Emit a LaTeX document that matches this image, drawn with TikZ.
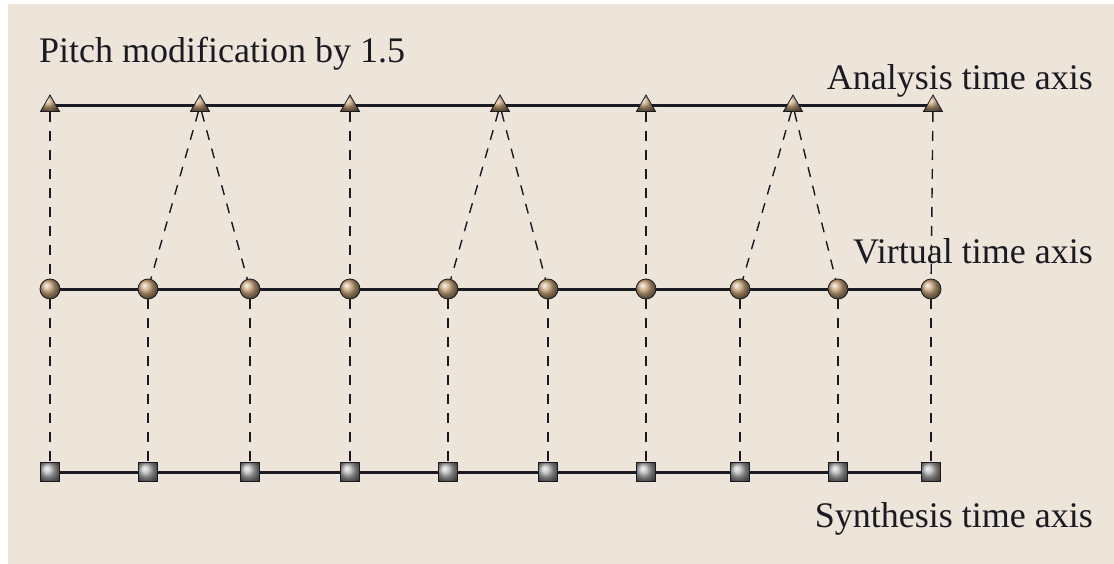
\documentclass[tikz,border=0pt]{standalone}
\usepackage{fontspec}
\setmainfont{Liberation Serif}
\usetikzlibrary{shapes.geometric, backgrounds}
\definecolor{psBack}{HTML}{EDE5DA}
\definecolor{psBronze}{HTML}{C9A57A}
\definecolor{psGray}{HTML}{B8B8B8}
\definecolor{psInk}{HTML}{1A1A22}

\begin{document}
\begin{tikzpicture}[
  x=1pt, y=-1pt,
  anapt/.style={
    regular polygon, regular polygon sides=3, minimum size=22pt,
    inner sep=0pt, draw=psInk, line width=0.8pt,
    shading=ball, ball color=psBronze,
  },
  virtpt/.style={
    circle, minimum size=20pt, inner sep=0pt, draw=psInk, line width=0.8pt,
    shading=ball, ball color=psBronze,
  },
  synpt/.style={
    rectangle, minimum size=19pt, inner sep=0pt, draw=psInk, line width=1pt,
    shading=ball, ball color=psGray,
  },
  axisline/.style={line width=3pt, color=psInk},
  link/.style={line width=1.4pt, color=psInk, dash pattern=on 10pt off 9pt},
  label/.style={inner sep=0pt, text=psInk, font=\fontsize{36}{40}\selectfont},
]
\useasboundingbox (0,0) rectangle (1114,564);

% time axes: markers
\foreach \x [count=\i] in {50,200,350,500,646,793,933}
  \node[anapt] (a\i) at (\x,106) {};
\foreach \x [count=\i] in {50,148,250,350,448,548,646,740,838,931} {
  \node[virtpt] (v\i) at (\x,289) {};
  \node[synpt]  (s\i) at (\x,472) {};
}

\begin{scope}[on background layer]
  \fill[psBack] (8,4) rectangle (1114,564);
  \draw[axisline] (a1.center) -- (a7.center);
  \draw[axisline] (v1.center) -- (v10.center);
  \draw[axisline] (s1.center) -- (s10.center);
\end{scope}

% analysis -> virtual
\foreach \a/\v in {1/1, 2/2, 2/3, 3/4, 4/5, 4/6, 5/7, 6/8, 6/9, 7/10}
  \draw[link] (a\a) -- (v\v);
% virtual -> synthesis
\foreach \i in {1,...,10}
  \draw[link] (v\i) -- (s\i);

% labels
\node[label, anchor=base west] (title) at (39,63) {Pitch modification by 1.5};
\node[label, anchor=base east] (anaLbl) at (1093,90) {Analysis time axis};
\node[label, anchor=base east] (virLbl) at (1093,264) {Virtual time axis};
\node[label, anchor=base east] (synLbl) at (1093,527) {Synthesis time axis};

\end{tikzpicture}
\end{document}
